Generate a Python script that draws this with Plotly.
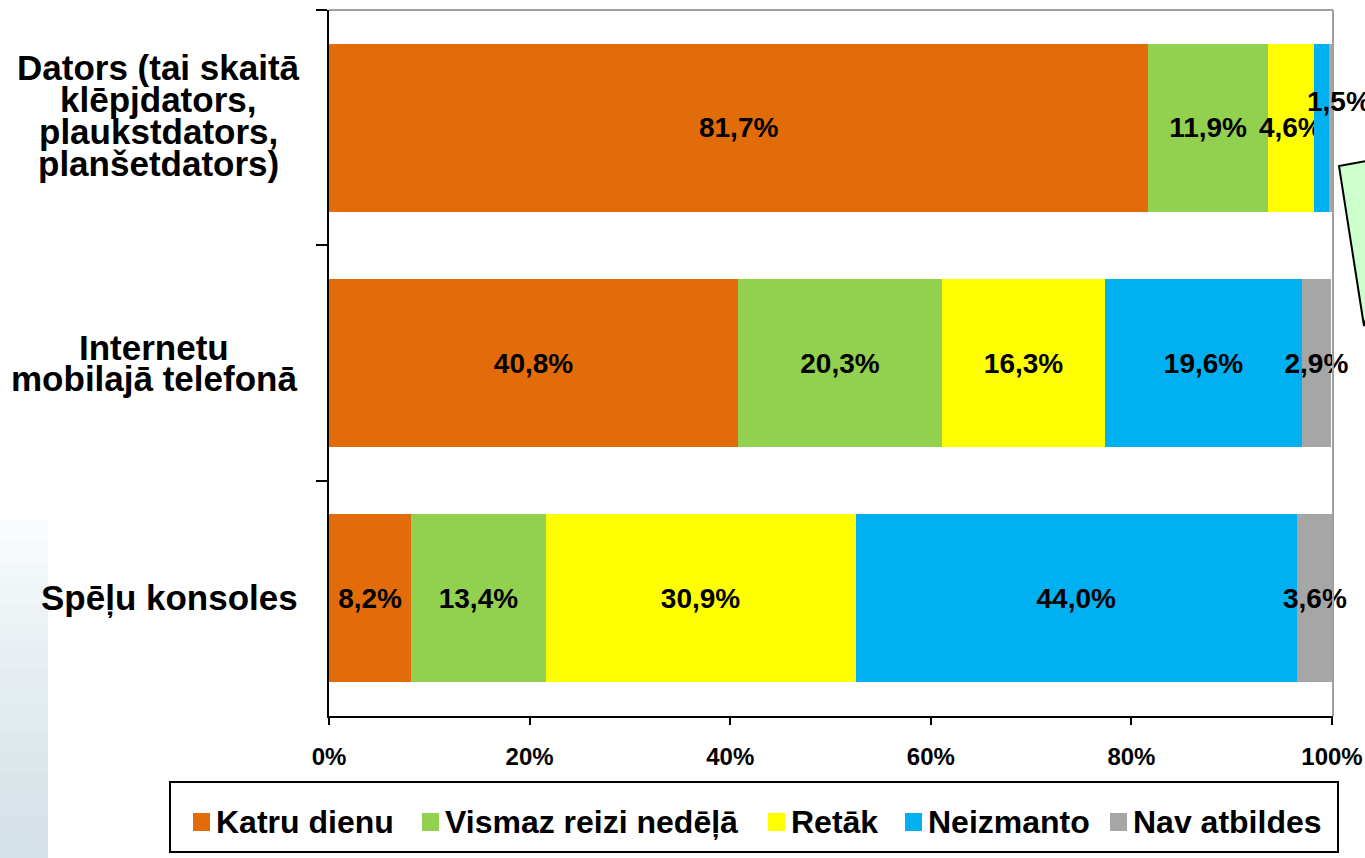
import plotly.graph_objects as go

# ---------------- data ----------------
categories = [
    "Dators (tai skaitā<br>klēpjdators,<br>plaukstdators,<br>planšetdators)",
    "Internetu<br>mobilajā telefonā",
    "Spēļu konsoles",
]
series_names = ["Katru dienu", "Vismaz reizi nedēļā", "Retāk", "Neizmanto", "Nav atbildes"]
katru_dienu = [81.7, 40.8, 8.2]
vismaz_reizi_nedela = [11.9, 20.3, 13.4]
retak = [4.6, 16.3, 30.9]
neizmanto = [1.5, 19.6, 44.0]
nav_atbildes = [0.3, 2.9, 3.6]
x_tick_values = [0, 20, 40, 60, 80, 100]
x_tick_labels = ["0%", "20%", "40%", "60%", "80%", "100%"]

series_values = [katru_dienu, vismaz_reizi_nedela, retak, neizmanto, nav_atbildes]
colors = ["#E36C0A", "#92D050", "#FFFF00", "#00B0F0", "#A6A6A6"]

# ---------------- geometry helpers (pixel -> paper) ----------------
W, H = 1365, 858
L, R, T, B = 329, 32, 10, 142
PW, PH = W - L - R, H - T - B


def px(x):
    return (x - L) / PW


def py(y):
    return (H - B - y) / PH


FONT = "Liberation Sans, Arial, sans-serif"


def fmt(v):
    return f"{v:.1f}".replace(".", ",") + "%"


fig = go.Figure()
for name, vals, col in zip(series_names, series_values, colors):
    fig.add_trace(go.Bar(
        y=categories, x=vals, name=name, orientation="h",
        marker=dict(color=col, line=dict(width=0)),
        text=[fmt(v) if v >= 2 else "" for v in vals],
        textposition="inside", insidetextanchor="middle",
        constraintext="none", textangle=0, cliponaxis=False,
        textfont=dict(family=FONT, size=28, color="black", weight="bold"),
        showlegend=False, hoverinfo="skip",
    ))

annotations = []
# small values labelled beside the bar
for vals_i, vals in enumerate(series_values):
    for ci, v in enumerate(vals):
        if 1 <= v < 2:
            start = sum(series_values[k][ci] for k in range(vals_i))
            annotations.append(dict(
                x=start + v / 2, y=categories[ci], xref="x", yref="y",
                text=fmt(v), showarrow=False, xshift=18, yshift=26,
                font=dict(family=FONT, size=28, color="black", weight="bold"),
            ))

# category labels (line by line, tight line spacing)
label_center_x = [158, 154, 169]
label_shift_y = [-12, 0, 0]
line_h = 32
for ci, cat in enumerate(categories):
    lines = cat.split("<br>")
    n = len(lines)
    band_center = T + PH / len(categories) * (ci + 0.5)
    for li, line in enumerate(lines):
        yc = band_center + label_shift_y[ci] + (li - (n - 1) / 2) * line_h
        annotations.append(dict(
            x=px(label_center_x[ci]), y=py(yc), xref="paper", yref="paper",
            text=line, showarrow=False, xanchor="center", yanchor="middle",
            font=dict(family=FONT, size=35, color="black", weight="bold"),
        ))

shapes = []
# left decorative gradient
n_steps = 16
y_top, y_bot = 520, 858
for i in range(n_steps):
    t = ((i + 1) / n_steps) ** 0.8
    r = int(254 - (254 - 212) * t)
    g = int(255 - (255 - 225) * t)
    b = int(255 - (255 - 231) * t)
    y0 = y_top + (y_bot - y_top) * i / n_steps
    y1 = y_top + (y_bot - y_top) * (i + 1) / n_steps
    shapes.append(dict(type="rect", xref="paper", yref="paper",
                       x0=px(0), x1=px(48), y0=py(y0), y1=py(y1 + 1),
                       line=dict(width=0), fillcolor=f"rgb({r},{g},{b})", layer="below"))

# top & right plot border (gray)
shapes.append(dict(type="line", xref="paper", yref="paper", x0=0, x1=1, y0=1, y1=1,
                   line=dict(color="#A0A0A0", width=2)))
shapes.append(dict(type="line", xref="paper", yref="paper", x0=1, x1=1, y0=0, y1=1,
                   line=dict(color="#A0A0A0", width=2)))

# green callout wedge on the right edge
path = (f"M {px(1339)},{py(166)} L {px(1372)},{py(160)} L {px(1372)},{py(300)} "
        f"L {px(1364)},{py(326)} Z")
shapes.append(dict(type="path", xref="paper", yref="paper", path=path,
                   fillcolor="#CCFFCC", line=dict(color="black", width=2)))

# manual legend
shapes.append(dict(type="rect", xref="paper", yref="paper",
                   x0=px(170), x1=px(1338), y0=py(852), y1=py(782),
                   line=dict(color="black", width=2), fillcolor="white"))
legend_sq_x = [193, 422, 768, 905, 1110]
legend_y = 822
for name, col, sx in zip(series_names, colors, legend_sq_x):
    shapes.append(dict(type="rect", xref="paper", yref="paper",
                       x0=px(sx), x1=px(sx + 17), y0=py(legend_y + 9), y1=py(legend_y - 9),
                       line=dict(width=0), fillcolor=col))
    annotations.append(dict(
        x=px(sx + 21), y=py(legend_y), xref="paper", yref="paper",
        text=name, showarrow=False, xanchor="left", yanchor="middle",
        font=dict(family=FONT, size=32, color="black", weight="bold"),
    ))

fig.update_layout(
    autosize=False,
    barmode="stack", bargap=0.286,
    width=W, height=H,
    margin=dict(l=L, r=R, t=T, b=B, pad=0, autoexpand=False),
    paper_bgcolor="white", plot_bgcolor="white",
    font=dict(family=FONT, color="black"),
    shapes=shapes, annotations=annotations,
    xaxis=dict(range=[0, 100.1], tickvals=x_tick_values, ticktext=x_tick_labels,
               automargin=False,
               showgrid=False, zeroline=False, showline=True, linecolor="black", linewidth=2,
               ticks="outside", ticklen=7, tickwidth=2, tickcolor="black",
               ticklabelstandoff=11,
               tickfont=dict(family=FONT, size=24, color="black", weight="bold")),
    yaxis=dict(type="category", autorange="reversed", showticklabels=False, automargin=False,
               showgrid=False, zeroline=False, showline=True, linecolor="black", linewidth=2,
               ticks="outside", tickson="boundaries", ticklen=11, tickwidth=2, tickcolor="black"),
)

fig.write_html(
    "out.html",
    config={"displayModeBar": False, "responsive": False},
    post_script="document.body.style.margin='0';document.body.style.overflow='hidden';",
)
